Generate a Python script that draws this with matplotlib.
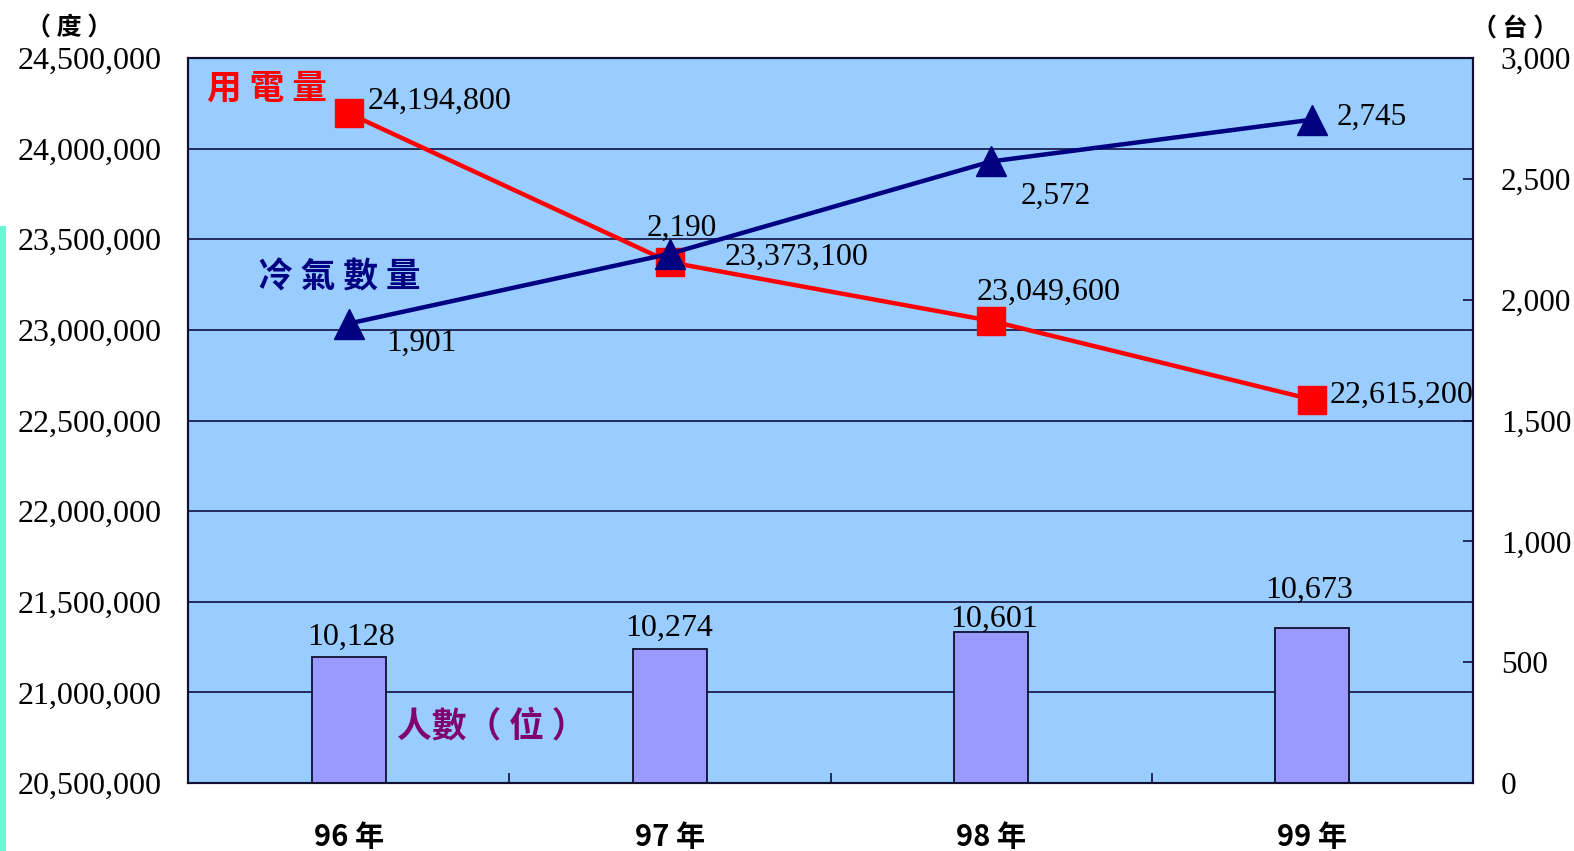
import matplotlib
matplotlib.use("Agg")
import matplotlib.pyplot as plt
from matplotlib.patches import Rectangle
from matplotlib.ticker import FuncFormatter

# ---------------- data ----------------
years = ["96年", "97年", "98年", "99年"]
power = [24194800, 23373100, 23049600, 22615200]      # 用電量 (度)
aircon = [1901, 2190, 2572, 2745]                      # 冷氣數量 (台)
people = [10128, 10274, 10601, 10673]                  # 人數 (位)

left_ticks = [20500000, 21000000, 21500000, 22000000, 22500000,
              23000000, 23500000, 24000000, 24500000]
right_ticks = [0, 500, 1000, 1500, 2000, 2500, 3000]

# label offsets in pixels (dx, dy)
power_off = [(19, 12), (55, 5), (-14, 29), (17, 4)]
aircon_off = [(38, -20), (-23, 25), (29, -35), (24, 2)]
people_off = [(2, 19), (-1, 21), (3, 13), (-3, 38)]

W, H = 1574, 851
SERIF = "Liberation Serif"
CJK = ["Noto Sans CJK TC", "DejaVu Sans"]

fig = plt.figure(figsize=(W / 100, H / 100), dpi=100)
fig.patch.set_facecolor("white")

# left decorative strip
fig.patches.append(Rectangle((0, 0), 6 / W, 1 - 226 / H, transform=fig.transFigure,
                             facecolor="#6EF5D2", edgecolor="none", zorder=0))

L, R, T, B = 188, 1473, 58, 783
ax = fig.add_axes([L / W, 1 - B / H, (R - L) / W, (B - T) / H])
ax.set_facecolor("#99CCFF")
ax3 = ax.twinx()   # hidden axis for bars
ax2 = ax.twinx()   # right axis

xs = list(range(len(years)))

# grid
for yv in left_ticks[1:-1]:
    ax.axhline(yv, color="#101040", lw=1.2, zorder=0.5)

# bars
ax3.bar(xs, people, width=0.23, bottom=0, color="#9999FF", edgecolor="#101030",
        linewidth=1.3, zorder=2)
ax3.set_ylim(7700, 21650)
ax3.axis("off")
for i, v in enumerate(people):
    ax3.annotate(f"{v:,}", xy=(i, v), xytext=people_off[i], textcoords="offset pixels",
                 ha="center", va="center", fontsize=23, family=SERIF, color="black")

# red line
ax.plot(xs, power, color="#FF0000", lw=3.2, marker="s", markersize=20,
        markerfacecolor="#FF0000", markeredgecolor="#FF0000", zorder=3)
for i, v in enumerate(power):
    ax.annotate(f"{v:,}", xy=(i, v), xytext=power_off[i], textcoords="offset pixels",
                ha="left", va="center", fontsize=23, family=SERIF, color="black", zorder=5)

# blue line
ax2.plot(xs, aircon, color="#000080", lw=3.2, marker="^", markersize=21,
         markerfacecolor="#000080", markeredgecolor="#000080", zorder=3)
for i, v in enumerate(aircon):
    ax2.annotate(f"{v:,}", xy=(i, v), xytext=aircon_off[i], textcoords="offset pixels",
                 ha="left", va="center", fontsize=22.5, family=SERIF, color="black")

# axes config
ax.set_xlim(-0.5, 3.5)
ax.set_ylim(left_ticks[0], left_ticks[-1])
ax.set_yticks(left_ticks)
ax.yaxis.set_major_formatter(FuncFormatter(lambda v, p: f"{int(v):,}"))
ax.tick_params(axis="y", length=0, pad=19, labelsize=23)
for lab in ax.get_yticklabels():
    lab.set_family(SERIF)

ax.set_xticks([0.5, 1.5, 2.5])
ax.set_xticklabels([])
ax.set_xticks(xs, minor=True)
ax.set_xticklabels([y.replace("年", " 年") for y in years], minor=True)
ax.tick_params(axis="x", which="major", direction="in", length=7, width=1.2, color="#101040")
ax.tick_params(axis="x", which="minor", length=0, pad=28, labelsize=21)
for lab in ax.get_xticklabels(minor=True):
    lab.set_family(CJK)
    lab.set_fontweight("bold")

ax2.set_ylim(0, 3000)
ax2.set_yticks(right_ticks)
ax2.yaxis.set_major_formatter(FuncFormatter(lambda v, p: f"{int(v):,}"))
ax2.tick_params(axis="y", direction="in", length=7, width=1.2, pad=20, labelsize=22.5,
                color="#101040")
for lab in ax2.get_yticklabels():
    lab.set_family(SERIF)

for a in (ax, ax2):
    for s in a.spines.values():
        s.set_color("#101030")
        s.set_linewidth(1.5)

# series names
def ptext(x, y, s, **kw):
    fig.text(x / W, 1 - y / H, s, ha="center", va="center", family=CJK, **kw)

ptext(267, 88, "用 電 量", fontsize=25, fontweight="bold", color="#FF0000")
ptext(339, 277, "冷 氣 數 量", fontsize=25, fontweight="bold", color="#000080")
ptext(492, 726, "人數（ 位 ）", fontsize=25, fontweight="bold", color="#800070")

# unit labels
ptext(69, 29, "（ 度 ）", fontsize=18, fontweight="bold", color="black")
ptext(1515, 29, "（ 台 ）", fontsize=18, fontweight="bold", color="black")

fig.savefig("out.png", dpi=100)
